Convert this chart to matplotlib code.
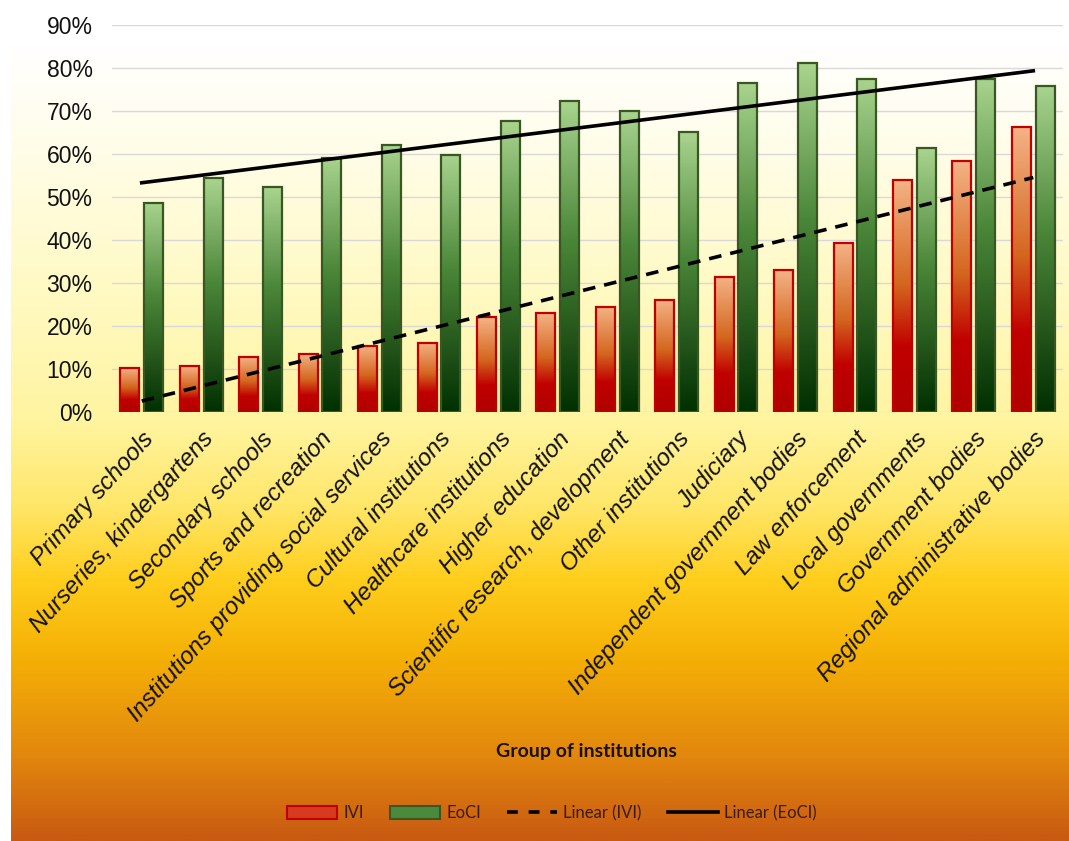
import numpy as np
import matplotlib
matplotlib.use("Agg")
import matplotlib.pyplot as plt
from matplotlib.colors import LinearSegmentedColormap
from matplotlib.patches import Rectangle
from matplotlib.lines import Line2D
from matplotlib.ticker import PercentFormatter

categories = [
    "Primary schools", "Nurseries, kindergartens", "Secondary schools",
    "Sports and recreation", "Institutions providing social services",
    "Cultural institutions", "Healthcare institutions", "Higher education",
    "Scientific research, development", "Other institutions", "Judiciary",
    "Independent government bodies", "Law enforcement", "Local governments",
    "Government bodies", "Regional administrative bodies",
]
ivi = [10.3, 10.6, 12.8, 13.6, 15.4, 16.1, 22.0, 23.0,
       24.5, 26.1, 31.4, 33.0, 39.3, 53.9, 58.4, 66.2]
eoci = [48.7, 54.4, 52.3, 59.1, 62.1, 59.8, 67.6, 72.3,
        69.9, 65.1, 76.6, 81.1, 77.5, 61.3, 77.5, 75.9]

ivi = np.array(ivi) / 100
eoci = np.array(eoci) / 100
x = np.arange(1, len(categories) + 1)

W, H = 1069, 841
fig = plt.figure(figsize=(W / 100, H / 100), dpi=100)
fig.patch.set_facecolor("white")

# background gradient (white -> pale yellow -> gold -> orange)
bg_cmap = LinearSegmentedColormap.from_list("bg", [
    (0.00, "#C85A12"),
    (0.10, "#E2870E"),
    (0.22, "#F5B106"),
    (0.31, "#FFCE1C"),
    (0.40, "#FFE76A"),
    (0.50, "#FFF4A0"),
    (0.64, "#FFF9C0"),
    (0.82, "#FFFDE8"),
    (0.95, "#FFFFFF"),
    (1.00, "#FFFFFF"),
])
bg = fig.add_axes([11 / W, 0, 1 - 11 / W, 1], zorder=-5)
bg.imshow(np.linspace(0, 1, 512).reshape(-1, 1), cmap=bg_cmap,
          origin="lower", aspect="auto", extent=[0, 1, 0, 1])
bg.axis("off")

ax = fig.add_axes([112 / W, 1 - 412 / H, 951 / W, 387 / H])
ax.set_facecolor("none")

red_cmap = LinearSegmentedColormap.from_list("red", [
    (0.0, "#B00000"), (0.28, "#C00000"), (0.55, "#D4661E"), (1.0, "#F4B386")])
green_cmap = LinearSegmentedColormap.from_list("green", [
    (0.0, "#003000"), (0.2, "#1E4E16"), (0.55, "#4A8638"), (1.0, "#A9D48E")])

bw = 0.32
grad = np.linspace(0, 1, 256).reshape(-1, 1)
for vals, off, cmap, ec in [(ivi, -0.2, red_cmap, "#C00000"),
                            (eoci, 0.2, green_cmap, "#385723")]:
    bars = ax.bar(x + off, vals, width=bw, facecolor="none",
                  edgecolor=ec, linewidth=1.6, zorder=3)
    for b in bars:
        x0, y0 = b.get_x(), b.get_y()
        im = ax.imshow(grad, cmap=cmap, origin="lower", aspect="auto",
                       extent=[x0, x0 + b.get_width(), y0, y0 + b.get_height()],
                       zorder=2)
        clip = Rectangle((x0, y0), b.get_width(), b.get_height(),
                         transform=ax.transData)
        im.set_clip_path(clip)

# linear trend lines
k1, c1 = np.polyfit(x, ivi, 1)
k2, c2 = np.polyfit(x, eoci, 1)
ax.plot(x, k1 * x + c1, color="black", lw=2.6, ls=(0, (3.5, 2.5)), zorder=4)
ax.plot(x, k2 * x + c2, color="black", lw=2.6, zorder=4)

ax.set_xlim(0.5, len(categories) + 0.5)
ax.set_ylim(0, 0.9)
ax.set_yticks(np.arange(0, 0.91, 0.1))
ax.yaxis.set_major_formatter(PercentFormatter(1.0, decimals=0))
ax.grid(axis="y", color="#D9D9D9", lw=1, zorder=0)
ax.set_axisbelow(True)
for s in ax.spines.values():
    s.set_visible(False)
ax.tick_params(axis="y", length=0, pad=14, labelsize=16.5, labelcolor="#111111")
ax.tick_params(axis="x", length=0, pad=11)

ax.set_xticks(x)
ax.set_xticklabels(categories, rotation=48, ha="right", va="top",
                   rotation_mode="anchor", fontsize=17.3, style="italic",
                   color="#111111")
for lab in ax.get_xticklabels():
    lab.set_family(["Liberation Sans", "DejaVu Sans"])
for lab in ax.get_yticklabels():
    lab.set_family(["Liberation Sans", "DejaVu Sans"])

fig.text(586 / W, 1 - 752 / H, "Group of institutions", ha="center",
         va="center", fontsize=14, fontweight="bold", color="#1a1208",
         family=["Lato", "DejaVu Sans"])

handles = [
    Rectangle((0, 0), 1, 1, facecolor="#D83A20", edgecolor="#C00000", lw=1.5),
    Rectangle((0, 0), 1, 1, facecolor="#4A8A3A", edgecolor="#385723", lw=1.5),
    Line2D([], [], color="black", lw=2.6, ls=(0, (3, 3))),
    Line2D([], [], color="black", lw=2.6),
]
labels = ["IVI", "EoCI", "Linear (IVI)", "Linear (EoCI)"]
leg = fig.legend(handles, labels, loc="center", ncol=4,
                 bbox_to_anchor=(552 / W, 1 - 813 / H), frameon=False,
                 handlelength=3.0, handleheight=0.8, columnspacing=1.6,
                 handletextpad=0.35,
                 prop={"family": ["Lato", "DejaVu Sans"], "size": 12})
for t in leg.get_texts():
    t.set_color("#3a1c10")

fig.savefig("out.png", dpi=100)
